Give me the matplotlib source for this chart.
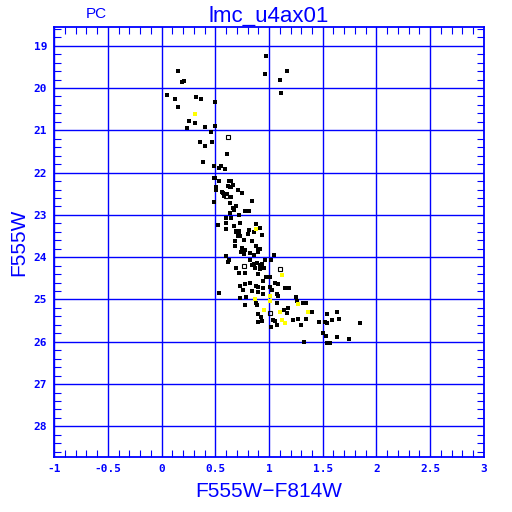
import numpy as np
import matplotlib
matplotlib.use('Agg')
import matplotlib.pyplot as plt
from matplotlib.ticker import MultipleLocator

plt.rcParams['axes.unicode_minus'] = False

BLUE = '#0000ff'

# colour F555W-F814W and magnitude F555W
black_x = [0.97, 0.155, 0.186, 0.211, 0.965, 1.17, 1.10, 1.11, 0.047, 0.124, 0.316, 0.363,
           0.493, 0.149, 0.257, 0.313, 0.233, 0.40, 0.50, 0.456, 0.357, 0.465, 0.40, 0.605,
           0.384, 0.49, 0.555, 0.537, 0.593, 0.484, 0.50, 0.533, 0.623, 0.65, 0.51, 0.62,
           0.633, 0.648, 0.667, 0.502, 0.561, 0.57, 0.713, 0.58, 0.607, 0.648, 0.75, 0.484,
           0.844, 0.64, 0.695, 0.667, 0.676, 0.633, 0.78, 0.81, 0.72, 0.60, 0.65, 0.726,
           0.60, 0.52, 0.67, 0.60, 0.69, 0.72, 0.69, 0.72, 0.81, 0.88, 0.92, 0.856,
           0.937, 0.80, 0.732, 0.71, 0.766, 0.844, 0.682, 0.877, 0.68, 0.744, 0.772, 0.90,
           0.918, 0.74, 0.77, 0.82, 0.86, 0.90,
           0.595, 0.626, 0.62, 0.688, 0.72, 0.772, 0.819, 0.84, 0.859, 0.887, 0.912, 0.93,
           0.96, 1.014, 1.048, 0.868, 0.912, 0.955, 0.90, 0.967, 1.01, 1.06, 1.08, 0.943,
           0.819, 0.78, 0.726, 0.874, 0.90, 0.943, 1.01, 1.03, 1.147, 1.184, 0.757, 0.837,
           0.90, 0.943, 1.073, 1.086, 0.53, 0.726, 0.788, 1.076, 1.247, 1.259, 0.772, 0.874,
           0.887, 1.141, 1.172, 1.166, 0.90, 0.924, 0.93, 0.90, 1.035, 1.06, 1.017, 1.22,
           1.27, 1.073,
           1.314, 1.346, 1.40, 1.30, 1.346, 1.463, 1.525, 1.544, 1.588, 1.544, 1.634, 1.653,
           1.851, 1.50, 1.532, 1.637, 1.749, 1.324, 1.544, 1.56, 1.57]
black_y = [19.25, 19.60, 19.85, 19.83, 19.68, 19.59, 19.80, 20.11, 20.16, 20.26, 20.21, 20.26,
           20.33, 20.45, 20.78, 20.83, 20.95, 20.93, 20.90, 21.05, 21.28, 21.28, 21.36, 21.55,
           21.74, 21.84, 21.84, 21.90, 21.92, 22.12, 22.12, 22.19, 22.19, 22.21, 22.33, 22.31,
           22.35, 22.35, 22.30, 22.40, 22.45, 22.49, 22.41, 22.56, 22.51, 22.57, 22.48, 22.69,
           22.68, 22.73, 22.79, 22.83, 22.89, 22.95, 22.91, 22.91, 23.00, 23.07, 23.07, 23.20,
           23.19, 23.23, 23.26, 23.34, 23.37, 23.37, 23.41, 23.41, 23.35, 23.22, 23.31, 23.41,
           23.47, 23.46, 23.49, 23.50, 23.60, 23.61, 23.61, 23.74, 23.73, 23.79, 23.83, 23.82,
           23.81, 23.88, 23.93, 23.90, 23.95, 23.88,
           23.98, 24.07, 24.12, 24.26, 24.37, 24.37, 24.07, 24.18, 24.17, 24.13, 24.18, 24.17,
           24.07, 24.07, 23.95, 24.26, 24.29, 24.26, 24.39, 24.47, 24.48, 24.61, 24.64, 24.57,
           24.62, 24.64, 24.67, 24.67, 24.70, 24.72, 24.70, 24.78, 24.72, 24.72, 24.78, 24.79,
           24.83, 24.86, 24.86, 24.91, 24.84, 24.96, 24.95, 25.09, 24.94, 25.03, 25.13, 25.09,
           25.14, 25.25, 25.20, 25.33, 25.34, 25.42, 25.52, 25.53, 25.49, 25.51, 25.66, 25.48,
           25.45, 25.60,
           25.09, 25.09, 25.30, 25.60, 25.45, 25.53, 25.53, 25.56, 25.49, 25.35, 25.30, 25.45,
           25.56, 25.79, 25.87, 25.89, 25.94, 26.00, 26.03, 26.03, 26.03]

yellow_x = [0.313, 0.875, 1.116, 1.01, 0.865, 1.005, 1.27, 0.949, 1.104, 1.123, 1.153, 1.365]
yellow_y = [20.62, 23.34, 24.42, 24.91, 25.00, 25.03, 25.11, 25.25, 25.29, 25.48, 25.56, 25.30]

open_x = [0.617, 0.598, 0.766, 1.098, 1.01]
open_y = [21.15, 22.56, 24.21, 24.29, 25.32]

fig = plt.figure(figsize=(5.12, 5.12), dpi=100)
ax = fig.add_axes([0.106, 0.107, 0.839, 0.840])

ax.plot(black_x, black_y, 's', color='black', markersize=2.3, markeredgewidth=0)
ax.plot(yellow_x, yellow_y, 's', color='#ffff00', markersize=2.3, markeredgewidth=0)
ax.plot(open_x, open_y, 's', mfc='none', mec='black', markersize=2.6, markeredgewidth=0.8)

ax.set_xlim(-1, 3)
ax.set_ylim(28.73, 18.56)

ax.xaxis.set_major_locator(MultipleLocator(0.5))
ax.xaxis.set_minor_locator(MultipleLocator(0.1))
ax.yaxis.set_major_locator(MultipleLocator(1))
ax.yaxis.set_minor_locator(MultipleLocator(0.2))
ax.xaxis.set_major_formatter(plt.FuncFormatter(lambda v, p: ('%g' % v)))

ax.grid(True, which='major', color=BLUE, linewidth=1.0)
ax.set_axisbelow(True)
for s in ax.spines.values():
    s.set_color(BLUE)
    s.set_linewidth(1.3)

ax.tick_params(which='both', direction='in', top=True, right=True, colors=BLUE)
ax.tick_params(which='minor', length=5, width=0.8)
ax.tick_params(which='major', length=0, pad=5)
for lab in ax.get_xticklabels() + ax.get_yticklabels():
    lab.set_fontsize(8)
    lab.set_fontweight('bold')
    lab.set_family('DejaVu Sans Mono')

ax.set_xlabel('F555W\u2212F814W', color=BLUE, fontsize=15, family='Liberation Sans', labelpad=6)
ax.set_ylabel('F555W', color=BLUE, fontsize=15, family='Liberation Sans', labelpad=4)
ax.set_title('lmc_u4ax01', color=BLUE, fontsize=16, family='Liberation Sans', pad=4)
fig.text(0.188, 0.965, 'PC', color=BLUE, fontsize=11, family='Liberation Sans', ha='center')

fig.savefig('out.png', dpi=100)
